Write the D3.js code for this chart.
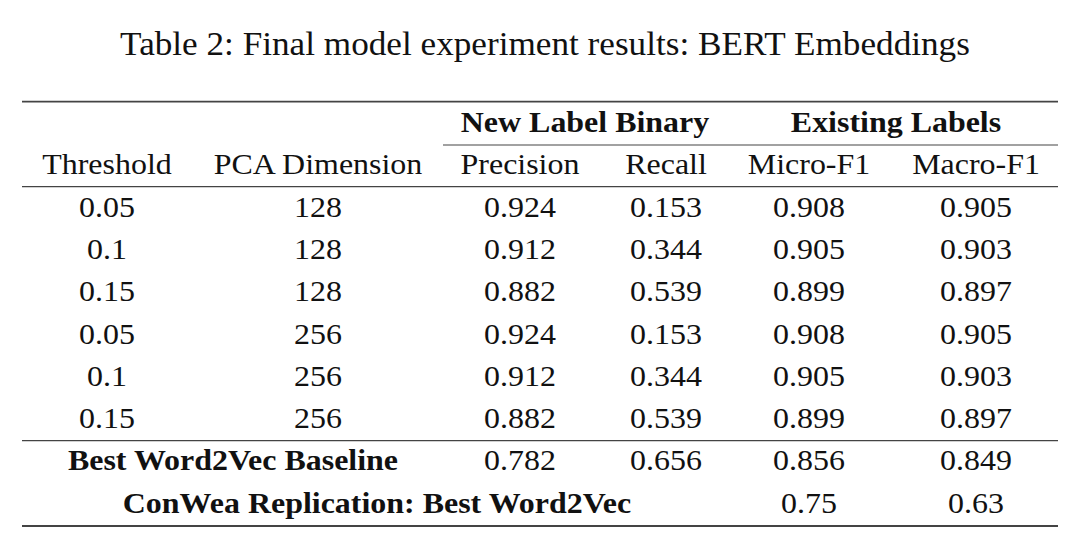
<!DOCTYPE html>
<html>
<head>
<meta charset="utf-8">
<script src="https://cdn.jsdelivr.net/npm/d3@7"></script>
<style>
  html, body { margin: 0; padding: 0; background: #fff; }
  svg { display: block; }
</style>
</head>
<body>
<svg id="chart" width="1080" height="546"></svg>
<script>
// ---- data ----
const title = "Table 2: Final model experiment results: BERT Embeddings";
const groupHeaders = ["New Label Binary", "Existing Labels"];
const columns = ["Threshold", "PCA Dimension", "Precision", "Recall", "Micro-F1", "Macro-F1"];
const thresholds = ["0.05", "0.1", "0.15", "0.05", "0.1", "0.15"];
const pcaDims = ["128", "128", "128", "256", "256", "256"];
const precision = ["0.924", "0.912", "0.882", "0.924", "0.912", "0.882"];
const recall = ["0.153", "0.344", "0.539", "0.153", "0.344", "0.539"];
const microF1 = ["0.908", "0.905", "0.899", "0.908", "0.905", "0.899"];
const macroF1 = ["0.905", "0.903", "0.897", "0.905", "0.903", "0.897"];
const baselineLabel = "Best Word2Vec Baseline";
const baselineValues = ["0.782", "0.656", "0.856", "0.849"];
const conweaLabel = "ConWea Replication: Best Word2Vec";
const conweaValues = ["0.75", "0.63"];

// ---- layout ----
const svg = d3.select("#chart");
const font = "'Liberation Serif', 'Times New Roman', serif";
const ink = "#111";

// column centres via an ordinal scale
const colX = d3.scaleOrdinal().domain(columns).range([107, 318, 520, 666, 809, 976]);
// row baselines via a linear scale (index -> y)
const rowY = d3.scaleLinear().domain([0, 1]).range([217, 259.2]);

const left = 22, right = 1058;

function txt(x, y, s, bold, size, sx) {
  svg.append("text")
    .attr("transform", `translate(${x},${y}) scale(${sx || 1.065},1)`)
    .attr("text-anchor", "middle")
    .attr("font-family", font).attr("font-size", size || 30)
    .attr("font-weight", bold ? "bold" : "normal")
    .attr("fill", ink)
    .text(s);
}

// title
txt(545, 55, title, false, 34, 1.035);

// rules
const rules = [
  { y: 101.7, x1: left, x2: right, w: 1.8 },
  { y: 145, x1: 443, x2: right, w: 1.1 },
  { y: 186.7, x1: left, x2: right, w: 1.3 },
  { y: 440.7, x1: left, x2: right, w: 1.3 },
  { y: 526, x1: left, x2: right, w: 1.8 }
];
svg.selectAll("line.rule").data(rules).enter().append("line")
  .attr("class", "rule")
  .attr("x1", d => d.x1).attr("x2", d => d.x2)
  .attr("y1", d => d.y).attr("y2", d => d.y)
  .attr("stroke", "#444").attr("stroke-width", d => d.w);

// group headers
txt(585, 132, groupHeaders[0], true);
txt(896, 132, groupHeaders[1], true);

// column headers
columns.forEach(c => txt(colX(c), 174, c, false));

// body rows
const body = thresholds.map((t, i) => [t, pcaDims[i], precision[i], recall[i], microF1[i], macroF1[i]]);
body.forEach((row, i) => {
  row.forEach((v, j) => txt(colX(columns[j]), rowY(i), v, false));
});

// baseline row
txt(233, 470, baselineLabel, true);
baselineValues.forEach((v, j) => txt(colX(columns[j + 2]), 470, v, false));

// conwea row
txt(377, 512.5, conweaLabel, true);
conweaValues.forEach((v, j) => txt(colX(columns[j + 4]), 512.5, v, false));
</script>
</body>
</html>
